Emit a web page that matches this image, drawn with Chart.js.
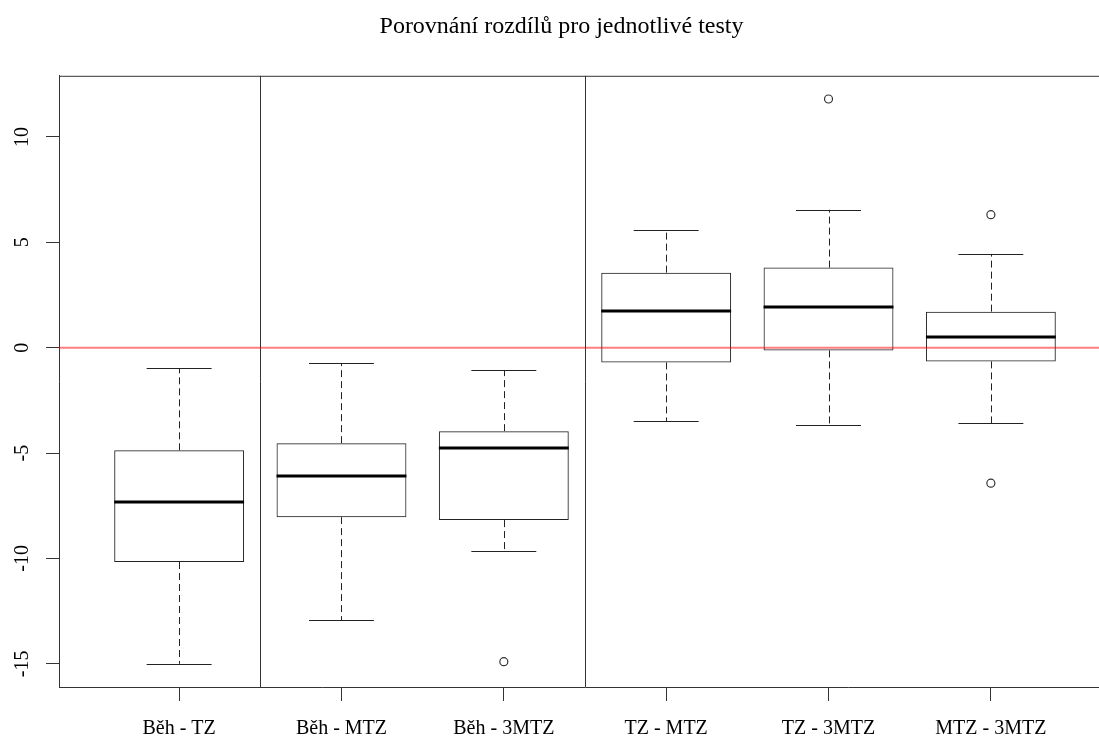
<!DOCTYPE html>
<html>
<head>
<meta charset="utf-8">
<title>Porovnání rozdílů pro jednotlivé testy</title>
<script src="https://cdn.jsdelivr.net/npm/chart.js@4"></script>
<style>
    html, body { margin: 0; padding: 0; background: #fff; overflow: hidden; }
    #wrap { width: 1120px; height: 738px; }
    canvas { display: block; }
</style>
</head>
<body>
<div id="wrap">
    <canvas id="diffChart" width="1120" height="738"></canvas>
</div>
<script>
const categories = ['Běh - TZ', 'Běh - MTZ', 'Běh - 3MTZ', 'TZ - MTZ', 'TZ - 3MTZ', 'MTZ - 3MTZ'];
const lowerWhisker = [-15.0, -12.92, -9.65, -3.49, -3.68, -3.58];
const q1 = [-10.17, -8.04, -8.18, -0.70, -0.13, -0.65];
const median = [-7.33, -6.10, -4.77, 1.76, 1.92, 0.53];
const q3 = [-4.87, -4.53, -3.96, 3.56, 3.80, 1.71];
const upperWhisker = [-0.98, -0.75, -1.08, 5.60, 6.54, 4.45];
// outliers: [box number, value]
const outliers = [[3, -14.9], [5, 11.8], [6, 6.31], [6, -6.43]];
const yTicks = [-15, -10, -5, 0, 5, 10];
const separators = [1.5, 3.5];
const refLine = 0;

const serif = "'Liberation Serif', 'Times New Roman', serif";

const boxExtras = {
    id: 'boxExtras',
    afterDatasetsDraw(chart) {
        const { ctx, chartArea, scales: { x, y } } = chart;
        ctx.save();

        // whiskers, caps, medians
        for (let i = 0; i < categories.length; i++) {
            const cx = Math.round(x.getPixelForValue(i + 1)) + 0.5;
            const capL = x.getPixelForValue(i + 1 - 0.2);
            const capR = x.getPixelForValue(i + 1 + 0.2);
            const boxL = x.getPixelForValue(i + 1 - 0.4);
            const boxR = x.getPixelForValue(i + 1 + 0.4);

            ctx.strokeStyle = '#222';
            ctx.lineWidth = 1;
            ctx.setLineDash([7, 4]);
            ctx.beginPath();
            ctx.moveTo(cx, y.getPixelForValue(q3[i]));
            ctx.lineTo(cx, y.getPixelForValue(upperWhisker[i]));
            ctx.moveTo(cx, y.getPixelForValue(q1[i]));
            ctx.lineTo(cx, y.getPixelForValue(lowerWhisker[i]));
            ctx.stroke();

            ctx.setLineDash([]);
            ctx.beginPath();
            const up = Math.round(y.getPixelForValue(upperWhisker[i])) + 0.5;
            const lo = Math.round(y.getPixelForValue(lowerWhisker[i])) + 0.5;
            ctx.moveTo(capL, up);
            ctx.lineTo(capR, up);
            ctx.moveTo(capL, lo);
            ctx.lineTo(capR, lo);
            ctx.stroke();

            ctx.strokeStyle = '#000';
            ctx.lineWidth = 3;
            const my = Math.round(y.getPixelForValue(median[i]));
            ctx.beginPath();
            ctx.moveTo(boxL, my);
            ctx.lineTo(boxR, my);
            ctx.stroke();
        }

        // group separators
        ctx.strokeStyle = '#333';
        ctx.lineWidth = 1;
        ctx.beginPath();
        separators.forEach(s => {
            const sx = Math.round(x.getPixelForValue(s)) + 0.5;
            ctx.moveTo(sx, chartArea.top);
            ctx.lineTo(sx, chartArea.bottom);
        });
        // top and right frame
        ctx.moveTo(chartArea.left, chartArea.top + 0.5);
        ctx.lineTo(chartArea.right, chartArea.top + 0.5);
        ctx.moveTo(chartArea.right - 0.5, chartArea.top);
        ctx.lineTo(chartArea.right - 0.5, chartArea.bottom);
        ctx.stroke();

        // zero line
        ctx.strokeStyle = 'rgba(255, 0, 0, 0.5)';
        ctx.lineWidth = 2;
        const zy = y.getPixelForValue(refLine);
        ctx.beginPath();
        ctx.moveTo(chartArea.left, zy);
        ctx.lineTo(chartArea.right, zy);
        ctx.stroke();

        ctx.restore();
    }
};

function buildChart() {
    const ctx = document.getElementById('diffChart').getContext('2d');
    return new Chart(ctx, {
        type: 'bar',
        data: {
            datasets: [{
                label: 'boxes',
                data: categories.map((c, i) => ({ x: i + 1, y: [q1[i], q3[i]] })),
                backgroundColor: 'rgba(0,0,0,0)',
                borderColor: '#222',
                borderWidth: 1,
                borderSkipped: false,
                barPercentage: 0.8,
                categoryPercentage: 1
            }, {
                type: 'scatter',
                label: 'outliers',
                data: outliers.map(o => ({ x: o[0], y: o[1] })),
                pointStyle: 'circle',
                pointRadius: 4,
                borderWidth: 1.2,
                borderColor: '#333',
                backgroundColor: 'rgba(0,0,0,0)'
            }]
        },
        options: {
            responsive: false,
            animation: false,
            devicePixelRatio: 1,
            layout: { padding: { left: 12, right: 9, top: 0, bottom: 0 } },
            plugins: {
                legend: { display: false },
                tooltip: { enabled: false },
                title: {
                    display: true,
                    text: 'Porovnání rozdílů pro jednotlivé testy',
                    color: '#000',
                    font: { family: serif, size: 24, weight: 'normal', lineHeight: 1.2 },
                    padding: { top: 12, bottom: 35 }
                }
            },
            scales: {
                x: {
                    type: 'linear',
                    offset: false,
                    min: 0.26,
                    max: 6.74,
                    afterBuildTicks: scale => {
                        scale.ticks = categories.map((c, i) => ({ value: i + 1 }));
                    },
                    afterFit: scale => { scale.height = 51; },
                    ticks: {
                        autoSkip: false,
                        maxRotation: 0,
                        color: '#000',
                        font: { family: serif, size: 20 },
                        padding: 16,
                        callback: v => categories[v - 1] || ''
                    },
                    grid: { offset: false, drawOnChartArea: false, drawTicks: true, tickLength: 14, color: '#333' },
                    border: { display: true, color: '#333', width: 1 }
                },
                y: {
                    min: -16.1,
                    max: 12.9,
                    afterBuildTicks: scale => {
                        scale.ticks = yTicks.map(v => ({ value: v }));
                    },
                    afterFit: scale => { scale.width = 47; },
                    ticks: {
                        color: '#000',
                        font: { family: serif, size: 20 },
                        minRotation: 90,
                        maxRotation: 90,
                        crossAlign: 'center',
                        padding: 10
                    },
                    grid: { drawOnChartArea: false, drawTicks: true, tickLength: 13, color: '#333' },
                    border: { display: true, color: '#333', width: 1 }
                }
            }
        },
        plugins: [boxExtras]
    });
}

document.addEventListener('DOMContentLoaded', () => {
    buildChart();
});
</script>
</body>
</html>
